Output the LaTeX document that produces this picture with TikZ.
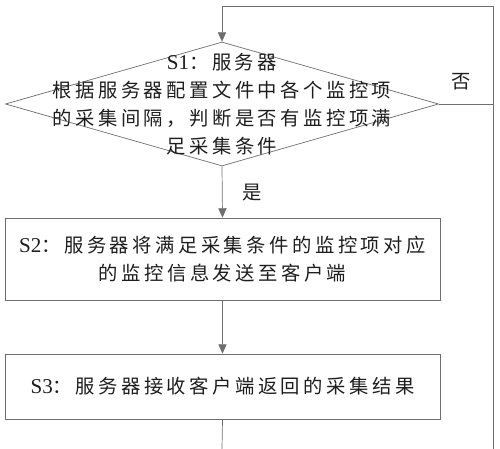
\documentclass[tikz,border=0pt]{standalone}
\usepackage{fontspec}
\setmainfont{Liberation Serif}
\newfontfamily\cjk[LetterSpace=18]{Noto Sans CJK SC}
\usetikzlibrary{arrows.meta, positioning, shapes.geometric}
\definecolor{linegray}{HTML}{6E6E6E}
\definecolor{textgray}{HTML}{1E1E1E}

\begin{document}
\begin{tikzpicture}[
    x=0.03cm, y=-0.03cm,
    dbox/.style={diamond, draw=linegray, line width=0.6pt, minimum width=12.99cm, minimum height=3.72cm, inner sep=0pt},
    tbox/.style={rectangle, draw=linegray, line width=0.6pt, minimum width=13.05cm, align=center, text=textgray, inner sep=0pt},
    dtext/.style={align=center, text=textgray, inner sep=0pt},
    lbl/.style={text=textgray, inner sep=0pt},
    arrow/.style={-{Triangle[length=8pt, width=7pt]}, draw=linegray, line width=0.6pt},
    line/.style={draw=linegray, line width=0.6pt},
]
\useasboundingbox (0,0) rectangle (500,449);

% S1
\node[dbox] (s1) at (222,104) {};
\node[dtext, font=\cjk\fontsize{16.5pt}{23.8pt}\selectfont] (s1t) at (s1.center)
  {{\rmfamily\fontsize{18pt}{23.8pt}\selectfont S1}：服务器\\根据服务器配置文件中各个监控项\\的采集间隔，判断是否有监控项满\\足采集条件};

% S2
\node[tbox, minimum height=2.46cm, font=\cjk\fontsize{16.5pt}{23.8pt}\selectfont] (s2) at (222.5,259)
  {{\rmfamily\fontsize{18pt}{23.8pt}\selectfont S2}：服务器将满足采集条件的监控项对应\\的监控信息发送至客户端};

% S3
\node[tbox, minimum height=1.95cm, font=\cjk\fontsize{16.5pt}{23.8pt}\selectfont] (s3) at (222.5,386.5)
  {{\rmfamily\fontsize{18pt}{23.8pt}\selectfont S3}：服务器接收客户端返回的采集结果};

% loop back
\coordinate (looptop) at (222,6);
\coordinate (loopcorner) at (493,6);
\coordinate (loopmid) at (493,104);
\coordinate (loopend) at (493,449);
\coordinate (s3out) at (222,449);

\draw[arrow] (loopend) -- (loopcorner) -- (looptop) -- (s1.north);
\draw[line] (s1.east) -- (loopmid);
\draw[arrow] (s1.south) -- (s2.north);
\draw[arrow] (s2.south) -- (s3.north);
\draw[line] (s3.south) -- (s3out);

% labels
\node[lbl, font=\cjk\fontsize{16.5pt}{18pt}\selectfont] (no) at (461,82) {否};
\node[lbl, font=\cjk\fontsize{16.5pt}{18pt}\selectfont] (yes) at (252,193) {是};

\end{tikzpicture}
\end{document}
